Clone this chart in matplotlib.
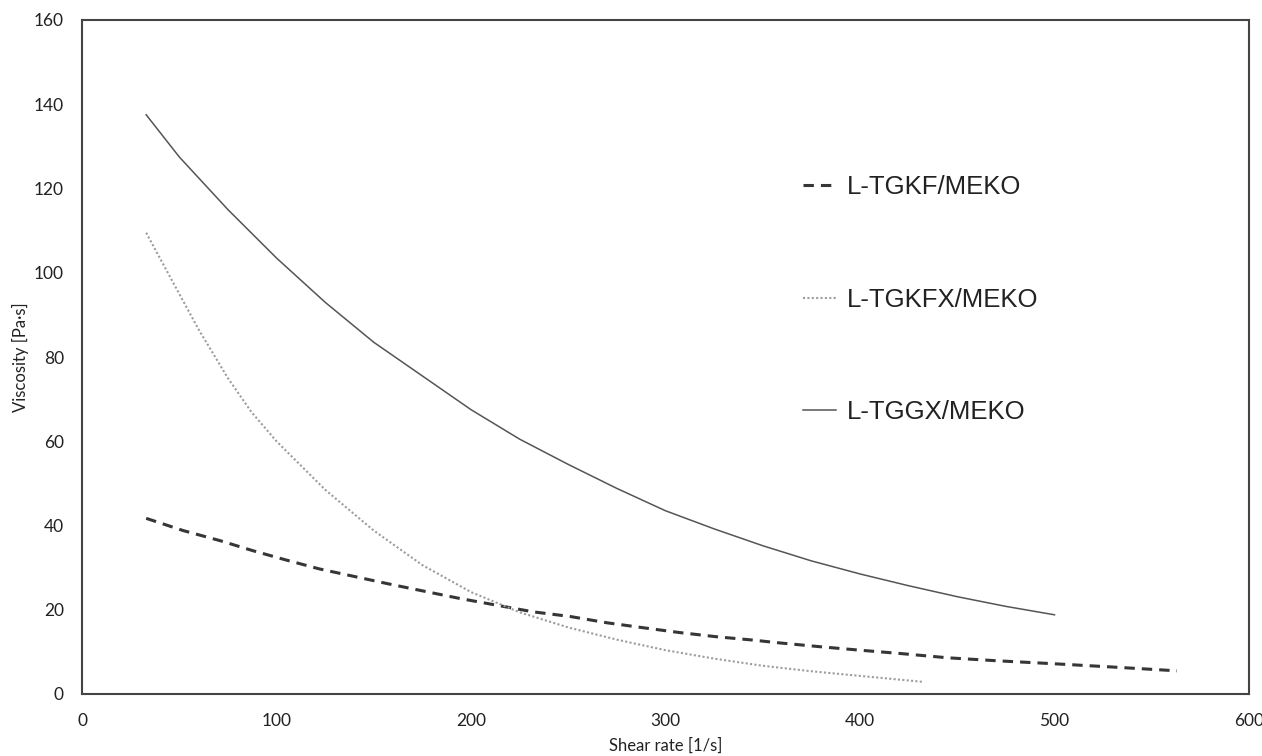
import matplotlib
matplotlib.use("Agg")
import matplotlib.pyplot as plt

# Flow curves: viscosity vs. shear rate for three formulations
rate_tgkf = [33, 52, 71, 88, 105, 122, 140, 158, 177, 194, 213, 232, 251, 270,
             289, 307, 326, 345, 357, 380, 400, 421, 445, 470, 499, 530, 563]
visc_tgkf = [41.7, 38.8, 36.4, 34.0, 31.8, 29.7, 27.9, 26.1, 24.3, 22.7, 21.1,
             19.5, 18.4, 16.9, 15.7, 14.6, 13.6, 12.8, 12.2, 11.2, 10.4, 9.6,
             8.6, 7.9, 7.2, 6.4, 5.5]

rate_tgkfx = [33, 40, 50, 60, 75, 87, 100, 125, 150, 175, 200, 225, 250, 275,
              300, 325, 350, 375, 400, 432]
visc_tgkfx = [109.5, 103.5, 95, 86.5, 75, 67, 60, 48.5, 38.8, 30.6, 24.2, 19.4,
              15.8, 12.9, 10.4, 8.4, 6.7, 5.4, 4.3, 2.9]

rate_tggx = [33, 50, 75, 100, 125, 150, 175, 200, 225, 250, 275, 300, 325, 350,
             375, 400, 425, 450, 475, 500]
visc_tggx = [137.5, 127.5, 115, 103.5, 93, 83.5, 75.5, 67.5, 60.5, 54.5, 48.8,
             43.5, 39.2, 35.2, 31.6, 28.5, 25.7, 23.1, 20.8, 18.8]

series_labels = ["L-TGKF/MEKO", "L-TGKFX/MEKO", "L-TGGX/MEKO"]
x_ticks = [0, 100, 200, 300, 400, 500, 600]
y_ticks = [0, 20, 40, 60, 80, 100, 120, 140, 160]

W, H = 1262, 756
fig = plt.figure(figsize=(W / 100, H / 100), dpi=100)
ax = fig.add_axes([82 / W, 62 / H, (1249 - 82) / W, (694 - 20) / H])

l1, = ax.plot(rate_tgkf, visc_tgkf, color="#363636", lw=2.2, dashes=(3.4, 2.3),
              label=series_labels[0])
l2, = ax.plot(rate_tgkfx, visc_tgkfx, color="#9c9c9c", lw=1.5, dashes=(1, 1.1),
              label=series_labels[1])
l3, = ax.plot(rate_tggx, visc_tggx, color="#555555", lw=1.1, label=series_labels[2])

ax.set_xlim(0, 600)
ax.set_ylim(0, 160)
ax.set_xticks(x_ticks)
ax.set_yticks(y_ticks)
ax.tick_params(length=0, labelsize=12.5, colors="#222222")
ax.tick_params(axis="x", pad=14)
ax.tick_params(axis="y", pad=13)
for lab in ax.get_xticklabels() + ax.get_yticklabels():
    lab.set_fontfamily("Lato")
for s in ax.spines.values():
    s.set_color("#444444")
    s.set_linewidth(1.5)

ax.set_xlabel("Shear rate [1/s]", fontsize=12, fontfamily="Lato",
              color="#222222", va="baseline")
ax.xaxis.set_label_coords(0.5, (694 - 751) / 674)
ax.set_ylabel("Viscosity [Pa·s]", fontsize=12, fontfamily="Lato",
              color="#222222", va="center")
ax.yaxis.set_label_coords((20 - 82) / 1167, 0.5)

leg = ax.legend(handles=[l1, l2, l3], loc="upper left",
                bbox_to_anchor=(803 / W, 1 - 175 / H),
                bbox_transform=fig.transFigure, frameon=False,
                prop={"family": "Liberation Sans", "size": 18.5},
                handlelength=1.3, handletextpad=0.42, labelspacing=3.45,
                borderpad=0, borderaxespad=0)
for t in leg.get_texts():
    t.set_color("#222222")

fig.savefig("out.png", dpi=100)
